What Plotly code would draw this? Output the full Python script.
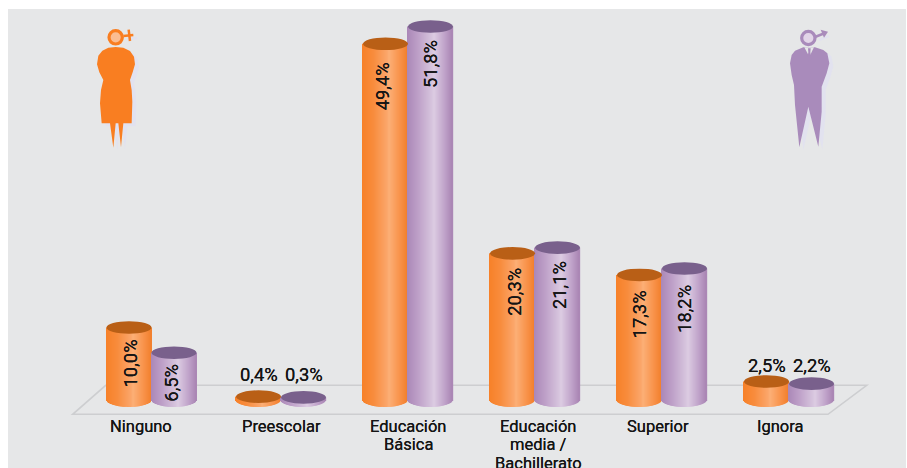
import math
import plotly.graph_objects as go

# ---- data ----
categories = ["Ninguno", "Preescolar", "Educación<br>Básica",
              "Educación<br>media /<br>Bachillerato", "Superior", "Ignora"]
mujeres = [10.0, 0.4, 49.4, 20.3, 17.3, 2.5]
hombres = [6.5, 0.3, 51.8, 21.1, 18.2, 2.2]
labels_mujeres = ["10,0%", "0,4%", "49,4%", "20,3%", "17,3%", "2,5%"]
labels_hombres = ["6,5%", "0,3%", "51,8%", "21,1%", "18,2%", "2,2%"]

# ---- page geometry (the page body margin is removed below) ----
W, H = 907, 468
OX, OY = 0, 0
GROUP_PX = 127.2
X0_PX = 153.0
Y_PER = 7.2
BASE_PX = 399.5
BAR_PX = 45.0
SAG_PX = 7.4
CAP_RY = 6.3
group_nudge = [-1.5, 0.8, 0.6, 0.4, 0.2, 0.0]

x_range = [(OX - X0_PX) / GROUP_PX, (OX + W - X0_PX) / GROUP_PX]
y_range = [(BASE_PX - (OY + H)) / Y_PER, (BASE_PX - OY) / Y_PER]
centres = [i + d / GROUP_PX for i, d in enumerate(group_nudge)]


def px(x, y):
    return (x - OX) / W, 1 - (y - OY) / H


def poly(points, ox=0.0, oy=0.0, sx=3.0, x0=70, y0=15):
    parts = []
    for i, (zx, zy) in enumerate(points):
        a, b = px(x0 + zx / sx + ox, y0 + zy / sx + oy)
        parts.append(f"{'M' if i == 0 else 'L'}{a:.5f},{b:.5f}")
    return " ".join(parts) + " Z"


def lerp_stops(stops, t):
    for (t0, c0), (t1, c1) in zip(stops, stops[1:]):
        if t <= t1:
            f = (t - t0) / (t1 - t0)
            c = [round(a + (b - a) * f) for a, b in zip(c0, c1)]
            return f"rgb({c[0]},{c[1]},{c[2]})"
    c = stops[-1][1]
    return f"rgb({c[0]},{c[1]},{c[2]})"


ORANGE = [(0, (247, 128, 40)), (.25, (248, 140, 60)), (.55, (251, 165, 105)),
          (.6, (252, 175, 118)), (.85, (248, 145, 72)), (1, (241, 128, 45))]
PURPLE = [(0, (170, 135, 183)), (.25, (190, 160, 200)), (.55, (214, 196, 221)),
          (.6, (220, 204, 226)), (.85, (190, 160, 200)), (1, (170, 133, 180))]
CAP_O, CAP_P = "#b95f16", "#79608c"
TXT = "#151515"
FONT = "Roboto, Liberation Sans, Arial, sans-serif"


def strips(values, side, stops):
    """One series as a row of thin vertical slices, so it reads as a cylinder."""
    half = BAR_PX / 2 / GROUP_PX
    n = 45
    xs, ys, bases, cols = [], [], [], []
    for i, v in enumerate(values):
        c = centres[i] + side * half
        for k in range(n):
            t = (k + .5) / n
            xs.append(c - half + 2 * half * t)
            sag = SAG_PX * math.sqrt(max(0, 1 - (2 * t - 1) ** 2)) / Y_PER
            bases.append(-sag)
            ys.append(v + sag)
            cols.append(lerp_stops(stops, t))
    return go.Bar(x=xs, y=ys, base=bases, width=2 * half / n * 1.35,
                  marker=dict(color=cols, line=dict(width=0)),
                  hoverinfo="skip", showlegend=False)


fig = go.Figure([strips(mujeres, -1, ORANGE), strips(hombres, 1, PURPLE)])

shapes = []
# grey panel on the white page
a, b = px(8, 9)
a2, b2 = px(906, 468)
shapes.append(dict(type="rect", xref="paper", yref="paper", x0=a, x1=a2, y0=b2, y1=b,
                   fillcolor="#e6e7e8", line_width=0, layer="below"))
# floor
fp = [(72.7, 414.3), (828, 414.3), (866.7, 385.3), (105.7, 385.3)]
shapes.append(dict(type="path", xref="paper", yref="paper", layer="below",
                   path=poly(fp, sx=1, x0=0, y0=0),
                   line=dict(color="#cdced0", width=1.6), fillcolor="rgba(0,0,0,0)"))
# caps
half = BAR_PX / 2 / GROUP_PX
for side, vals, col in ((-1, mujeres, CAP_O), (1, hombres, CAP_P)):
    for i, v in enumerate(vals):
        c = centres[i] + side * half
        shapes.append(dict(type="circle", xref="x", yref="y", x0=c - half, x1=c + half,
                           y0=v - CAP_RY / Y_PER, y1=v + CAP_RY / Y_PER,
                           fillcolor=col, line_width=0))

# ---- icons ----
woman = [(137, 96), (160, 98), (180, 108), (192, 125), (195, 148), (188, 172), (180, 195), (185, 225),
         (187, 260), (185, 325), (160, 325), (153, 397), (145, 325), (137, 325), (130, 398), (120, 325),
         (95, 325), (90, 265), (93, 225), (100, 195), (88, 172), (81, 148), (85, 122), (97, 107), (115, 98)]
man = [(100, 97), (75, 107), (65, 120), (60, 145), (65, 180), (72, 210), (75, 270), (88, 397), (115, 275),
       (145, 395), (155, 290), (155, 215), (170, 175), (178, 145), (172, 115), (160, 105), (135, 97)]
SHADOW = "#e2e2ef"
WC, WI = "#f97e21", "#fbbd92"
MC, MI = "#a98bbb", "#e2d5e8"


def circ(cx, cy, r, x0, y0, **kw):
    a, b = px(x0 + (cx - r) / 3, y0 + (cy - r) / 3)
    c, d = px(x0 + (cx + r) / 3, y0 + (cy + r) / 3)
    return dict(type="circle", xref="paper", yref="paper", x0=a, x1=c, y0=d, y1=b, **kw)


def pth(points, x0, y0, col, ox=0.0, oy=0.0):
    return dict(type="path", xref="paper", yref="paper", fillcolor=col, line_width=0,
                path=poly(points, ox=ox, oy=oy, x0=x0, y0=y0))


def stroke(points, x0, y0, col, w):
    path = poly(points, x0=x0, y0=y0)[:-2]
    return dict(type="path", xref="paper", yref="paper", path=path, line=dict(color=col, width=w))


wx, wy, mx, my = 70, 15, 770, 15
cross_h = [(160, 63), (190, 60)]
cross_v = [(176, 44), (180, 78)]
arrow = [(135, 66), (165, 54)]
head = [(152, 44), (174, 50), (162, 68)]
shadow_dx, shadow_dy = 4, 3
shapes += [
    pth(woman, wx, wy, SHADOW, shadow_dx, shadow_dy),
    stroke([(x + 12, y + 9) for x, y in cross_h], wx, wy, SHADOW, 2.5),
    pth(man, mx, my, SHADOW, shadow_dx, shadow_dy),
    stroke([(x + 12, y + 9) for x, y in arrow], mx, my, SHADOW, 2.5),
    pth(woman, wx, wy, WC),
    stroke(cross_h, wx, wy, WC, 2.5), stroke(cross_v, wx, wy, WC, 2.5),
    circ(137, 67, 20, wx, wy, fillcolor=WI, line=dict(color=WC, width=3.2)),
    pth(man, mx, my, MC),
    pth([(103, 97), (118, 125), (132, 97)], mx, my, "#e6e7e8"),
    pth([(114, 100), (122, 100), (121, 112), (124, 132), (118, 142), (112, 132), (115, 112)], mx, my, MC),
    stroke(arrow, mx, my, MC, 2.5), pth(head, mx, my, MC),
    circ(115, 69, 20, mx, my, fillcolor=MI, line=dict(color=MC, width=3.2)),
]

# ---- texts ----
annos = []
INSIDE_MIN = 5
f = dict(family=FONT, size=18.4, color=TXT, shadow="0 0 0.5px #151515")
nudge_m = [1, 0, -3, 2, 0, 0]
nudge_h = [-2, 0, 0, 2, 0, 0]
top_m = [-10, 0, -17, -13, -14, 0]
top_h = [-9, 0, -12, -12, -15, 0]
above_m = [0, 10, 0, 0, 0, 4]
above_h = [0, 10, 0, 0, 0, 6]
for side, vals, labs, nx, tops, above in ((-1, mujeres, labels_mujeres, nudge_m, top_m, above_m),
                                          (1, hombres, labels_hombres, nudge_h, top_h, above_h)):
    for i, (v, t) in enumerate(zip(vals, labs)):
        c = centres[i] + side * half
        if v > INSIDE_MIN:
            annos.append(dict(x=c, y=v, text=t, textangle=-90, showarrow=False, font=f,
                              xanchor="center", yanchor="top", yshift=tops[i], xshift=nx[i]))
        else:
            annos.append(dict(x=c, y=v, text=t, showarrow=False, font=f,
                              xanchor="center", yanchor="bottom", yshift=above[i]))

cat_nudge = [-11, 0, 0, 3, -4, -9]
cf = dict(family=FONT, size=16.5, color=TXT, shadow="0 0 0.5px #151515")
LINE_PX = 18.5
for i, (name, dx) in enumerate(zip(categories, cat_nudge)):
    for j, line in enumerate(name.split("<br>")):
        annos.append(dict(x=centres[i], y=0, yref="y", text=line, showarrow=False, xshift=dx,
                          yshift=-15 - j * LINE_PX, yanchor="top", xanchor="center",
                          font=cf))

fig.update_layout(
    width=W, height=H, margin=dict(l=0, r=0, t=0, b=0),
    paper_bgcolor="white", plot_bgcolor="rgba(0,0,0,0)",
    barmode="overlay", showlegend=False, shapes=shapes, annotations=annos,
    xaxis=dict(range=x_range, visible=False, fixedrange=True),
    yaxis=dict(range=y_range, visible=False, fixedrange=True),
)
fig.write_html("out.html", config=dict(displayModeBar=False),
               default_width=f"{W}px", default_height=f"{H}px",
               post_script="document.body.style.margin='0';document.documentElement.style.overflow='hidden';")
